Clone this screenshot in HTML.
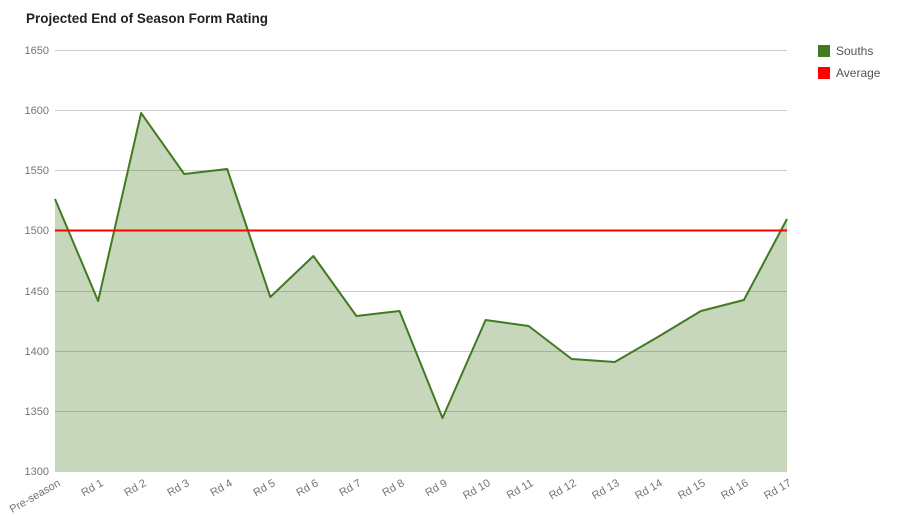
<!DOCTYPE html>
<html><head><meta charset="utf-8"><style>
html,body{margin:0;padding:0;background:#fff;}
svg{display:block;font-family:"Liberation Sans",sans-serif;}
</style></head><body>
<svg width="900" height="516" viewBox="0 0 900 516">
<text x="26" y="23" font-size="14" font-weight="bold" fill="#222" textLength="242" lengthAdjust="spacingAndGlyphs">Projected End of Season Form Rating</text>
<g stroke="#ccc" stroke-width="1">
<line x1="55" x2="787" y1="50.5" y2="50.5"/>
<line x1="55" x2="787" y1="110.5" y2="110.5"/>
<line x1="55" x2="787" y1="170.5" y2="170.5"/>
<line x1="55" x2="787" y1="230.5" y2="230.5"/>
<line x1="55" x2="787" y1="291.5" y2="291.5"/>
<line x1="55" x2="787" y1="351.5" y2="351.5"/>
<line x1="55" x2="787" y1="411.5" y2="411.5"/>
<line x1="55" x2="787" y1="471.5" y2="471.5"/>
</g>
<g font-size="11" fill="#757575" text-anchor="end">
<text x="49" y="54">1650</text>
<text x="49" y="114">1600</text>
<text x="49" y="174">1550</text>
<text x="49" y="234">1500</text>
<text x="49" y="295">1450</text>
<text x="49" y="355">1400</text>
<text x="49" y="415">1350</text>
<text x="49" y="475">1300</text>
</g>
<polygon fill="#417a1f" fill-opacity="0.3" points="55,471 55,199 98.1,301 141.1,113 184.2,174 227.2,169 270.3,297 313.4,256 356.4,316 399.5,311 442.5,418 485.6,320 528.6,326 571.7,359 614.8,362 657.8,337 700.9,311 743.9,300 787,219 787,471"/>
<polyline fill="none" stroke="#417a1f" stroke-width="2" stroke-linejoin="round" points="55,199 98.1,301 141.1,113 184.2,174 227.2,169 270.3,297 313.4,256 356.4,316 399.5,311 442.5,418 485.6,320 528.6,326 571.7,359 614.8,362 657.8,337 700.9,311 743.9,300 787,219"/>
<line x1="55" x2="787" y1="230.5" y2="230.5" stroke="#ff0000" stroke-width="2"/>
<g font-size="11" fill="#757575" text-anchor="end">
<text transform="translate(61,485) rotate(-30)">Pre-season</text>
<text transform="translate(104,485) rotate(-30)">Rd 1</text>
<text transform="translate(147,485) rotate(-30)">Rd 2</text>
<text transform="translate(190,485) rotate(-30)">Rd 3</text>
<text transform="translate(233,485) rotate(-30)">Rd 4</text>
<text transform="translate(276,485) rotate(-30)">Rd 5</text>
<text transform="translate(319,485) rotate(-30)">Rd 6</text>
<text transform="translate(362,485) rotate(-30)">Rd 7</text>
<text transform="translate(405,485) rotate(-30)">Rd 8</text>
<text transform="translate(448,485) rotate(-30)">Rd 9</text>
<text transform="translate(491,485) rotate(-30)">Rd 10</text>
<text transform="translate(534,485) rotate(-30)">Rd 11</text>
<text transform="translate(577,485) rotate(-30)">Rd 12</text>
<text transform="translate(620,485) rotate(-30)">Rd 13</text>
<text transform="translate(663,485) rotate(-30)">Rd 14</text>
<text transform="translate(706,485) rotate(-30)">Rd 15</text>
<text transform="translate(749,485) rotate(-30)">Rd 16</text>
<text transform="translate(792,485) rotate(-30)">Rd 17</text>
</g>
<rect x="818" y="45" width="12" height="12" fill="#417a1f"/>
<text x="836" y="55" font-size="12" fill="#555">Souths</text>
<rect x="818" y="67" width="12" height="12" fill="#ff0000"/>
<text x="836" y="77" font-size="12" fill="#555">Average</text>
</svg>
</body></html>
